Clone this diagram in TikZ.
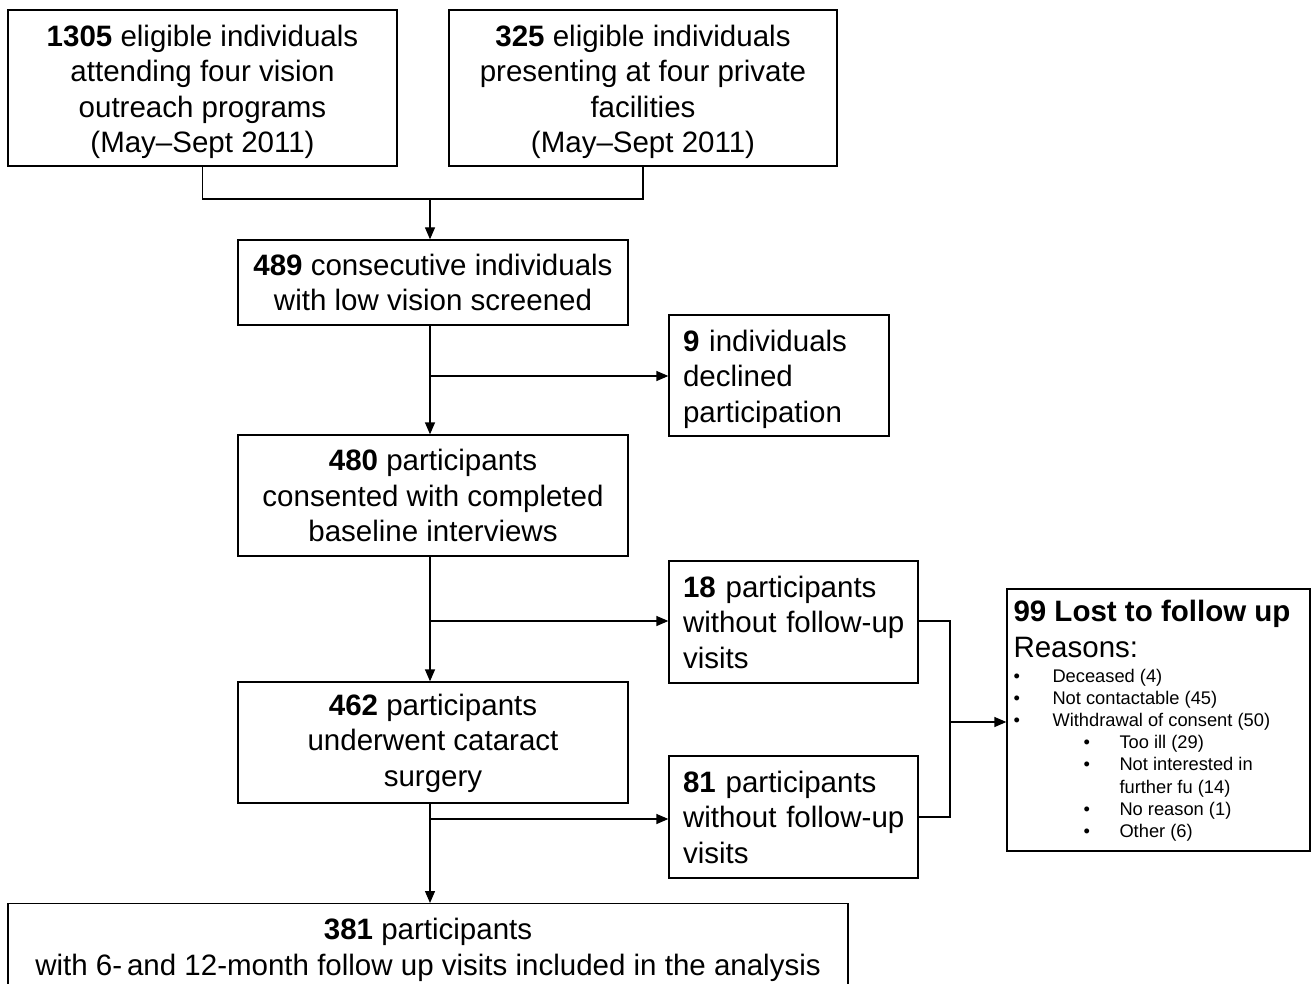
\documentclass[tikz,border=0pt]{standalone}
\usepackage{fontspec}
\setmainfont{Liberation Sans}
\usetikzlibrary{arrows.meta}
\begin{document}
\begin{tikzpicture}[x=1pt,y=-1pt,
  box/.style={draw, line width=1.3pt, inner sep=0pt, font=\fontsize{29.5}{35.5}\selectfont},
  conn/.style={line width=1.3pt},
  arr/.style={line width=1.3pt, -{Triangle[length=12pt,width=10pt]}}]
\useasboundingbox (0,0) rectangle (1314,984);
\node[box, minimum width=389pt, minimum height=156pt, align=center] (A) at (202.5,88)
  {\rule{0pt}{29pt}\textbf{1305} eligible individuals\\attending four vision\\outreach programs\\(May--Sept 2011)};
\node[box, minimum width=388pt, minimum height=156pt, align=center] (B) at (643,88)
  {\rule{0pt}{29pt}\textbf{325} eligible individuals\\presenting at four private\\facilities\\(May--Sept 2011)};
\node[box, minimum width=390pt, minimum height=85pt, align=center] (C) at (433,282.5)
  {\textbf{489} consecutive individuals\\with low vision screened};
\node[box, minimum width=220pt, minimum height=121pt, align=left, text width=192pt] (D) at (779,375.5)
  {\rule{0pt}{29pt}\textbf{9} individuals\\declined\\participation};
\node[box, minimum width=390pt, minimum height=121pt, align=center] (E) at (433,495.5)
  {\textbf{480} participants\\consented with completed\\baseline interviews};
\node[box, minimum width=249pt, minimum height=122pt, align=left, text width=221pt] (F) at (793.5,622)
  {\textbf{18} participants\\\mbox{without follow-up}\\visits};
\node[box, minimum width=390pt, minimum height=121pt, align=center] (G) at (433,742.5)
  {\rule{0pt}{23pt}\textbf{462} participants\\underwent cataract\\surgery};
\node[box, minimum width=249pt, minimum height=122pt, align=left, text width=221pt] (H) at (793.5,817)
  {\textbf{81} participants\\\mbox{without follow-up}\\visits};
\node[box, minimum width=840pt, minimum height=92pt, align=center, anchor=north] (I) at (428,903)
  {\textbf{381} participants\\with 6-\,and 12-month follow up visits included in the analysis};
\node[draw, line width=1.3pt, inner sep=0pt, minimum width=303pt, minimum height=262pt] (J) at (1158.5,720)
  {\begin{minipage}{290pt}
   \vspace*{2pt}
   \fontsize{29.5}{36}\selectfont\textbf{99 Lost to follow up}\par
   Reasons:\par
   \fontsize{18.3}{22.2}\selectfont
   \vspace*{2pt}
   \makebox[39pt][l]{•}Deceased (4)\par
   \makebox[39pt][l]{•}Not contactable (45)\par
   \makebox[39pt][l]{•}Withdrawal of consent (50)\par
   \hspace*{70pt}\makebox[36pt][l]{•}Too ill (29)\par
   \hspace*{70pt}\makebox[36pt][l]{•}Not interested in\par
   \hspace*{106pt}further fu (14)\par
   \hspace*{70pt}\makebox[36pt][l]{•}No reason (1)\par
   \hspace*{70pt}\makebox[36pt][l]{•}Other (6)\par
   \end{minipage}};
% connectors
\coordinate (m1) at (430,199);
\draw[conn] (A.south) |- (m1) -| (B.south);
\draw[arr] (m1) -- (m1 |- C.north);
\draw[arr] (C.south -| m1) -- (m1 |- E.north);
\coordinate (b1) at (430,376);
\draw[arr] (b1) -- (b1 -| D.west);
\draw[arr] (E.south -| m1) -- (m1 |- G.north);
\coordinate (b2) at (430,621);
\draw[arr] (b2) -- (b2 -| F.west);
\draw[arr] (G.south -| m1) -- (m1 |- I.north);
\coordinate (b3) at (430,819);
\draw[arr] (b3) -- (b3 -| H.west);
\coordinate (r1) at (950,621);
\coordinate (r2) at (950,817);
\coordinate (r3) at (950,722);
\draw[conn] (F.east |- r1) -- (r1) -- (r2) -- (H.east |- r2);
\draw[arr] (r3) -- (r3 -| J.west);
\end{tikzpicture}
\end{document}
